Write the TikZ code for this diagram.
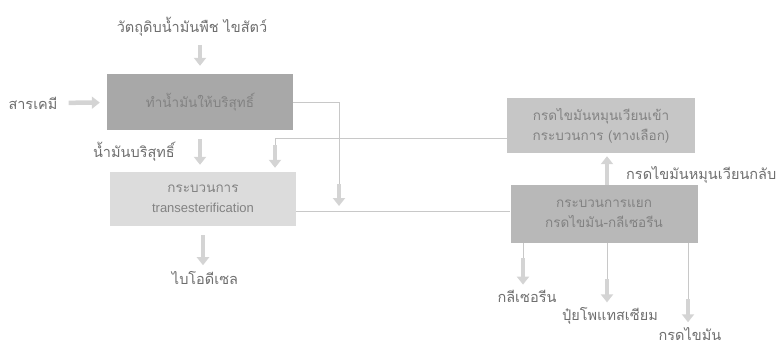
\documentclass[tikz,border=0pt]{standalone}
\usepackage{fontspec}
\setmainfont[Script=Thai]{Loma}
\newfontfamily\latinfont{Liberation Sans}
\usetikzlibrary{arrows.meta,positioning,calc}
\definecolor{BoxDark}{RGB}{168,168,168}
\definecolor{BoxMid}{RGB}{184,184,184}
\definecolor{BoxSoft}{RGB}{198,198,198}
\definecolor{BoxLight}{RGB}{220,220,220}
\definecolor{TextBox}{RGB}{130,130,130}
\definecolor{TextLbl}{RGB}{110,110,110}
\definecolor{LineGray}{RGB}{200,200,200}
\definecolor{ArrGray}{RGB}{212,212,212}

\begin{document}
\begin{tikzpicture}[x=1pt,y=-1pt,
  n/.style={rectangle,minimum width=186pt,minimum height=56pt,inner sep=2pt,font=\fontsize{13.5}{20}\selectfont,text=TextBox,align=center},
  lbl/.style={font=\fontsize{14.5}{17}\selectfont,text=TextLbl,inner sep=2pt},
  ln/.style={draw=LineGray,line width=1pt},
  arr/.style={draw=ArrGray,line width=4.5pt,-{Triangle[length=8pt,width=12pt]}}
]
  \useasboundingbox (0,0) rectangle (783,349);
  % process boxes
  \node[n,fill=BoxDark] (refine) at (200,102) {ทำน้ำมันให้บริสุทธิ์};
  \node[n,fill=BoxLight,minimum height=54pt] (trans) at (203,199) {กระบวนการ\\{\latinfont\fontsize{13}{20}\selectfont transesterification}};
  \node[n,fill=BoxSoft,minimum width=188pt,minimum height=55pt] (recyc) at (601,125.5) {กรดไขมันหมุนเวียนเข้า\\กระบวนการ (ทางเลือก)};
  \node[n,fill=BoxMid,minimum width=187pt,minimum height=58pt] (split) at (604,214) {กระบวนการแยก\\กรดไขมัน-กลีเซอรีน};
  % labels
  \node[lbl] (raw) at (192,27) {วัตถุดิบน้ำมันพืช ไขสัตว์};
  \node[lbl] (chem) at (33,103) {สารเคมี};
  \node[lbl,anchor=east] (pure) at (177,152) {น้ำมันบริสุทธิ์};
  \node[lbl] (bio) at (205,278) {ไบโอดีเซล};
  \node[lbl,anchor=west] (back) at (624,175) {กรดไขมันหมุนเวียนกลับ};
  \node[lbl] (glyc) at (527,296) {กลีเซอรีน};
  \node[lbl] (potash) at (610,316) {ปุ๋ยโพแทสเซียม};
  \node[lbl] (fatty) at (690,334) {กรดไขมัน};
  % turning points of the thin lines
  \coordinate (k1) at (339,184);
  \coordinate (k1e) at (339,206);
  \coordinate (k2) at (275,145);
  \coordinate (k3) at (523,258);
  \coordinate (k4) at (607,279);
  \coordinate (k5) at (688,299);
  % thin lines
  \draw[ln] (refine.east) -| (k1);
  \draw[ln] (recyc.west |- 0,138) -| (k2);
  \draw[ln] (trans.east |- 0,211) -- (split.west |- 0,211);
  \draw[ln] (split.south -| k3) -- (k3);
  \draw[ln] (split.south -| k4) -- (k4);
  \draw[ln] (split.south -| k5) -- (k5);
  % block arrows
  \draw[arr,shorten <=6pt,shorten >=8pt] (raw.south -| refine) -- (refine.north);
  \draw[arr,shorten <=9pt,shorten >=7pt] (chem) -- (refine);
  \draw[arr,shorten <=9pt,shorten >=7pt] (refine.south) -- (refine.south |- trans.north);
  \draw[arr,shorten >=4pt] (k2) -- (k2 |- trans.north);
  \draw[arr] (k1) -- (k1e);
  \draw[arr,shorten <=9pt,shorten >=4pt] (trans.south) -- (trans.south |- bio.north);
  \draw[arr,shorten >=3pt] (split.north -| 607,0) -- (recyc.south -| 607,0);
  \draw[arr,shorten >=3pt] (k3) -- (k3 |- glyc.north);
  \draw[arr,shorten >=3pt] (k4) -- (k4 |- potash.north);
  \draw[arr,shorten >=3pt] (k5) -- (k5 |- fatty.north);
\end{tikzpicture}
\end{document}
